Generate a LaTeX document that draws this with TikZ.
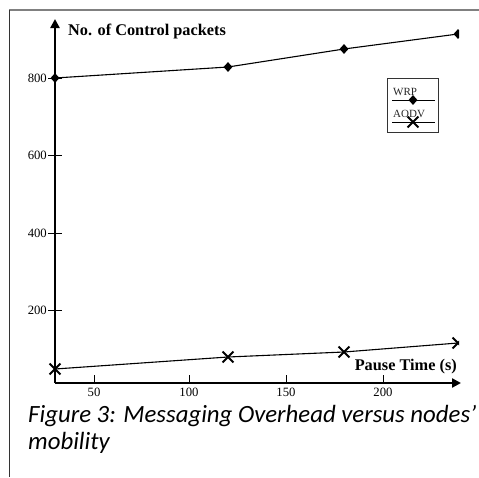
\documentclass[tikz,border=0pt]{standalone}
\usepackage{fontspec}
\setmainfont{Liberation Serif}
\newfontfamily\capfont{Carlito}
\usetikzlibrary{arrows.meta,shapes.geometric,shapes.misc}
\begin{document}
\begin{tikzpicture}[x=1pt,y=-1pt,
  frametop/.style={draw=black!50,line width=1.5pt},
  frameleft/.style={draw=black!80,line width=1pt},
  axisline/.style={line width=2.6pt,-{Triangle[length=9pt,width=9pt]}},
  tickline/.style={line width=0.9pt},
  ticklabel/.style={font=\fontsize{12.7}{12.7}\selectfont,inner sep=1pt},
  series/.style={line width=1.1pt},
  wrpmark/.style={diamond,fill=black,inner sep=0pt,minimum width=9pt,minimum height=10pt},
  aodvmark/.style={cross out,draw=black,line width=1.8pt,inner sep=0pt,minimum size=9pt},
  axistitle/.style={font=\bfseries\fontsize{16.3}{16.3}\selectfont,inner sep=0pt},
  legendtext/.style={font=\fontsize{11}{11}\selectfont,inner sep=0pt,text=black!85},
  captiontext/.style={font=\capfont\itshape\fontsize{24.8}{27}\selectfont,inner sep=0pt,anchor=base west}
]
\useasboundingbox (0,0) rectangle (479,477);
% frame
\coordinate (ftl) at (9,10);
\coordinate (ftr) at (479,10);
\coordinate (fbl) at (9,477);
\draw[frametop] (ftl) -- (ftr);
\draw[frameleft] (ftl) -- (fbl);

% axes
\coordinate (origin) at (55,383);
\coordinate (ytip) at (55,19);
\coordinate (xtip) at (461,383);
\draw[axisline] (origin) -- (ytip);
\draw[axisline] (origin) -- (xtip);

% y ticks
\foreach \v/\py in {800/78,600/155,400/233,200/310}{
  \coordinate (yt\v a) at (48,\py);
  \coordinate (yt\v b) at (62,\py);
  \draw[tickline] (yt\v a) -- (yt\v b);
  \node[ticklabel,anchor=east] (yl\v) at (yt\v a) {\v};
}
% x ticks
\foreach \v/\px in {50/94,100/189,150/286,200/383}{
  \coordinate (xt\v a) at (\px,375);
  \coordinate (xt\v b) at (\px,383);
  \draw[tickline] (xt\v a) -- (xt\v b);
  \node[ticklabel,anchor=north] (xl\v) at (\px,387) {\v};
}

% titles
\node[axistitle,anchor=west] (ytitle) at (68,31) {No. of Control packets};
\node[axistitle,anchor=east] (xtitle) at (457,367) {Pause Time (s)};

% data
\coordinate (w1) at (55,78);
\coordinate (w2) at (228,67);
\coordinate (w3) at (344,49);
\coordinate (w4) at (458,34);
\coordinate (a1) at (55,369);
\coordinate (a2) at (228,357);
\coordinate (a3) at (344,352);
\coordinate (a4) at (458,343);
\draw[series] (w1) -- (w2) -- (w3) -- (w4);
\draw[series] (a1) -- (a2) -- (a3) -- (a4);
\begin{scope}
\clip (0,0) rectangle (459,477);
\foreach \i in {1,2,3,4}{
  \node[wrpmark] (mw\i) at (w\i) {};
  \node[aodvmark] (ma\i) at (a\i) {};
}
\end{scope}

% legend
\node[draw=black!80,line width=0.9pt,minimum width=51pt,minimum height=54pt,inner sep=0pt] (legend) at (412.5,105) {};
\node[legendtext,anchor=south west] (lwrp) at (393,96) {WRP};
\coordinate (lw1) at (392,100);
\coordinate (lw2) at (435,100);
\draw[line width=0.8pt] (lw1) -- (lw2);
\node[wrpmark] (lmw) at (413,100) {};
\node[legendtext,anchor=south west] (laodv) at (393,118) {AODV};
\coordinate (la1) at (392,122);
\coordinate (la2) at (435,122);
\draw[line width=0.8pt] (la1) -- (la2);
\node[aodvmark] (lma) at (413,122) {};

% caption
\node[captiontext] (cap1) at (28,422) {Figure 3: Messaging Overhead versus nodes’};
\node[captiontext] (cap2) at (28,449) {mobility};
\end{tikzpicture}
\end{document}
